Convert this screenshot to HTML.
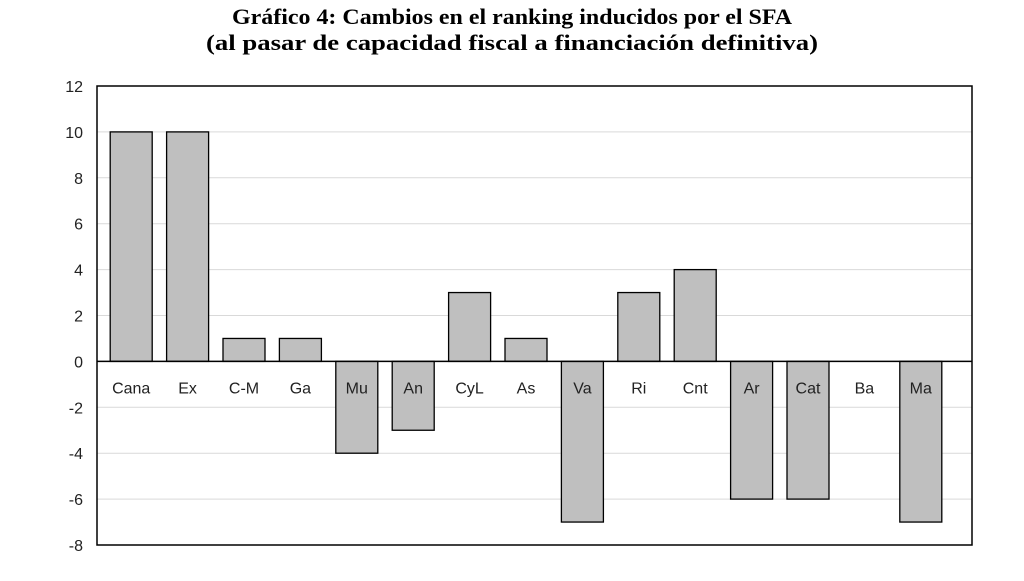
<!DOCTYPE html>
<html><head><meta charset="utf-8"><style>
body{margin:0;background:#fff;}
svg text{font-family:"Liberation Sans",sans-serif;}
</style></head><body>
<svg id="chart" width="1024" height="576" xmlns="http://www.w3.org/2000/svg">
<text x="512" y="24" text-anchor="middle" textLength="560" lengthAdjust="spacingAndGlyphs" style="font-family:'Liberation Serif',serif;font-weight:bold;font-size:22px">Gráfico 4: Cambios en el ranking inducidos por el SFA</text>
<text x="512" y="50" text-anchor="middle" textLength="612" lengthAdjust="spacingAndGlyphs" style="font-family:'Liberation Serif',serif;font-weight:bold;font-size:22px">(al pasar de capacidad fiscal a financiación definitiva)</text>
<g id="grid"></g><g id="bars"></g><g id="labels"></g>
<rect x="97" y="86" width="875" height="459" fill="none" stroke="#000" stroke-width="1.5"/>
</svg>
<script>
const categories=["Cana","Ex","C-M","Ga","Mu","An","CyL","As","Va","Ri","Cnt","Ar","Cat","Ba","Ma"];
const values=[10,10,1,1,-4,-3,3,1,-7,3,4,-6,-6,0,-7];
const yTicks=[12,10,8,6,4,2,0,-2,-4,-6,-8];
const NS="http://www.w3.org/2000/svg";
const L=97,R=972,T=86,B=545,yMin=-8,yMax=12;
const CL=103,CR=949;
function y(v){return T+(yMax-v)/(yMax-yMin)*(B-T);}
const step=(CR-CL)/categories.length;
function x(i){return CL+step*(i+0.5);}
function mk(tag,attrs,parent){const e=document.createElementNS(NS,tag);for(const k in attrs)e.setAttribute(k,attrs[k]);document.getElementById(parent).appendChild(e);return e;}
yTicks.forEach(t=>{
  const l=mk('line',{x1:L,x2:R,y1:y(t),y2:y(t),stroke:'#d9d9d9','stroke-width':1},'grid');
  
  
  const tx=mk('text',{x:83,y:y(t)+6,'text-anchor':'end','font-size':16,fill:'#222'},'labels');
  tx.textContent=t;
  
  
});
const bw=42;
values.forEach((v,i)=>{
  const y0=y(0),yv=y(v);
  if(v!==0){
  const r=mk('rect',{x:x(i)-bw/2,y:Math.min(y0,yv),width:bw,height:Math.abs(yv-y0),fill:'#bfbfbf',stroke:'#000','stroke-width':1.3},'bars');
  
  }
  const tx=mk('text',{x:x(i),y:y0+32,'text-anchor':'middle','font-size':16,fill:'#222'},'labels');
  tx.textContent=categories[i];
  
  
});
const z=mk('line',{x1:L,x2:R,y1:y(0),y2:y(0),stroke:'#000','stroke-width':1.5},'bars');


</script>
</body></html>
